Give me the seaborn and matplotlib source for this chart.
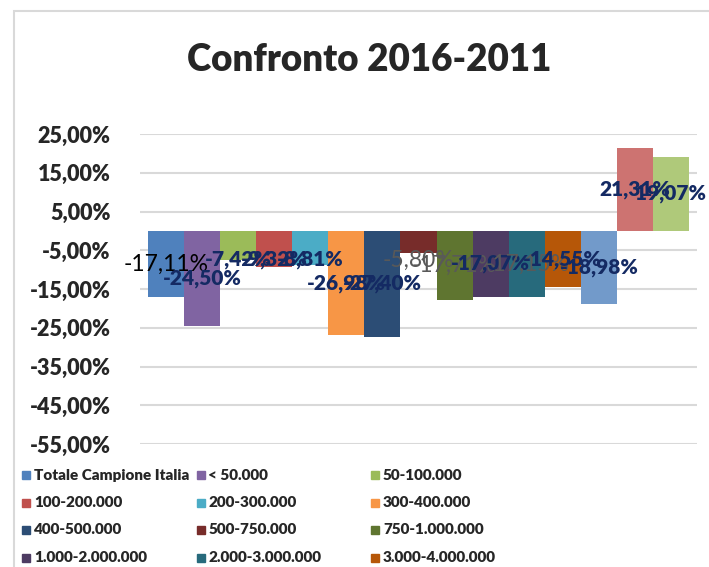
import numpy as np
import pandas as pd
import matplotlib
matplotlib.use("Agg")
import matplotlib.pyplot as plt
import seaborn as sns
from matplotlib.patches import Rectangle
from matplotlib.ticker import FuncFormatter

sns.set_style("white")
plt.rcParams["font.family"] = ["Lato", "DejaVu Sans"]

# Serie (fasce di popolazione) e variazioni 2016-2011 in %
serie = ["Totale Campione Italia", "< 50.000", "50-100.000",
         "100-200.000", "200-300.000", "300-400.000",
         "400-500.000", "500-750.000", "750-1.000.000",
         "1.000-2.000.000", "2.000-3.000.000", "3.000-4.000.000",
         "4.000-5.000.000", "5.000-10.000.000", "> 10.000.000"]
valori = [-17.11, -24.50, -7.42, -9.32, -8.81, -26.98, -27.40, -5.80,
          -17.71, -17.07, -17.15, -14.55, -18.98, 21.31, 19.07]
colori = ["#4F81BD", "#8064A2", "#9BBB59", "#C0504D", "#4BACC6", "#F79646",
          "#2C4D75", "#772C2A", "#5F7530", "#4D3B62", "#276A7C", "#B65708",
          "#729ACA", "#CD7371", "#AFC97A"]
# stile etichette dati: (colore, grassetto)
navy = "#142A63"
grigio = "#595959"
stile_etichette = [("black", False), (navy, True), (navy, True), (navy, True),
                   (navy, True), (navy, True), (navy, True), (grigio, False),
                   (grigio, False), (navy, True), (grigio, False), (navy, True),
                   (navy, True), (navy, True), (navy, True)]
tick_y = np.arange(-55, 26, 10)
PESO = "heavy"

df = pd.DataFrame({"cat": [""] * len(serie), "serie": serie, "valore": valori})

W, H = 709, 567
fig = plt.figure(figsize=(W / 100, H / 100), dpi=100)
ax = fig.add_axes([140 / W, 1 - 444 / H, 557 / W, 310 / H])

sns.barplot(data=df, x="cat", y="valore", hue="serie", hue_order=serie,
            palette=colori, width=541 / 557, saturation=1, legend=False,
            linewidth=0, ax=ax)

ax.set_xlim(-0.5, 0.5)
ax.set_ylim(-55, 25)
ax.set_yticks(tick_y)
ax.yaxis.set_major_formatter(FuncFormatter(
    lambda v, p: f"{v:.2f}".replace(".", ",") + "%"))
ax.grid(axis="y", color="#D9D9D9", linewidth=1.5)
ax.set_axisbelow(True)
ax.set_xlabel("")
ax.set_ylabel("")
ax.set_xticks([])
ax.tick_params(axis="y", length=0, pad=21, labelsize=15.5)
for lab in ax.get_yticklabels():
    lab.set_fontweight(PESO)
for s in ax.spines.values():
    s.set_visible(False)

# etichette dati
for cont, v, (col, bold) in zip(ax.containers, valori, stile_etichette):
    bar = cont.patches[0]
    xc = bar.get_x() + bar.get_width() / 2
    yc = v / 2 if v > 0 else min(v / 2, -7.5)
    ax.text(xc, yc, f"{v:.2f}".replace(".", ",") + "%", ha="center",
            va="center", color=col, fontsize=15 if bold else 16.5,
            fontweight=PESO if bold else "normal")

fig.text(369 / W, 1 - 60 / H, "Confronto 2016-2011", ha="center",
         va="center", fontsize=26.5, fontweight=PESO)

# bordo dell'area grafico
fig.add_artist(Rectangle((14 / W, -0.2), 2, 1.2 - 11 / H,
                         transform=fig.transFigure, fill=False,
                         edgecolor="#D9D9D9", linewidth=1.5))

# legenda in basso, 3 colonne a larghezza fissa
for i, (nome, col) in enumerate(zip(serie, colori)):
    r, c = divmod(i, 3)
    x0 = 22 + c * 174.5
    y0 = 475 + r * 27.5
    fig.add_artist(Rectangle((x0 / W, 1 - (y0 + 4) / H), 8 / W, 8 / H,
                             transform=fig.transFigure, color=col))
    fig.text((x0 + 12) / W, 1 - y0 / H, nome, ha="left", va="center",
             fontsize=11, fontweight=PESO)

fig.savefig("out.png", dpi=100)
